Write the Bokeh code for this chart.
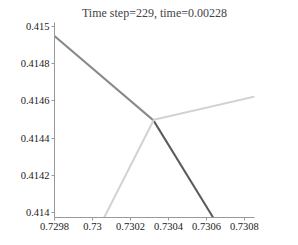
from bokeh.plotting import figure
from bokeh.embed import file_html
from bokeh.resources import INLINE
from bokeh.models import Range1d

title_text = "Time step=229, time=0.00228"

# segments: (x0, y0) -> (x1, y1), with colours
seg_x0 = [0.72975, 0.730321, 0.730323, 0.730323]
seg_y0 = [0.414992, 0.414495, 0.414498, 0.414498]
seg_x1 = [0.730321, 0.730655, 0.730900, 0.730045]
seg_y1 = [0.414495, 0.413940, 0.414634, 0.413940]
seg_colors = ["#8a8a8a", "#5a5a5a", "#d2d2d2", "#d2d2d2"]

x_ticks = [0.7298, 0.73, 0.7302, 0.7304, 0.7306, 0.7308]
y_ticks = [0.414, 0.4142, 0.4144, 0.4146, 0.4148, 0.415]

FONT = "'Liberation Serif', 'Times New Roman', serif"

p = figure(width=298, height=245, output_backend="svg", toolbar_location=None,
           x_range=Range1d(0.7298, 0.730853), y_range=Range1d(0.413973, 0.415021),
           min_border_left=54, min_border_right=44, min_border_top=20, min_border_bottom=28,
           title=title_text)
p.title.text_font = FONT
p.title.text_font_size = "12px"
p.title.text_font_style = "normal"
p.title.align = "center"
p.title.standoff = 6
p.title.offset = 0

p.segment(seg_x0, seg_y0, seg_x1, seg_y1, line_color=seg_colors, line_width=2)

p.outline_line_color = None
p.grid.visible = False
for ax in (p.xaxis[0], p.yaxis[0]):
    ax.axis_line_color = "#999999"
    ax.axis_line_width = 1
    ax.major_tick_line_color = "#999999"
    ax.major_tick_out = 3
    ax.major_tick_in = 0
    ax.minor_tick_line_color = None
    ax.major_label_text_font = FONT
    ax.major_label_text_font_size = "10.5px"
    ax.major_label_text_color = "#222222"
    ax.major_label_standoff = 2
p.xaxis[0].ticker = x_ticks
p.yaxis[0].ticker = y_ticks
p.xaxis[0].major_label_overrides = {0.73: "0.73"}
p.yaxis[0].major_label_overrides = {0.414: "0.414", 0.415: "0.415"}

open("out.html", "w").write(file_html(p, INLINE))
